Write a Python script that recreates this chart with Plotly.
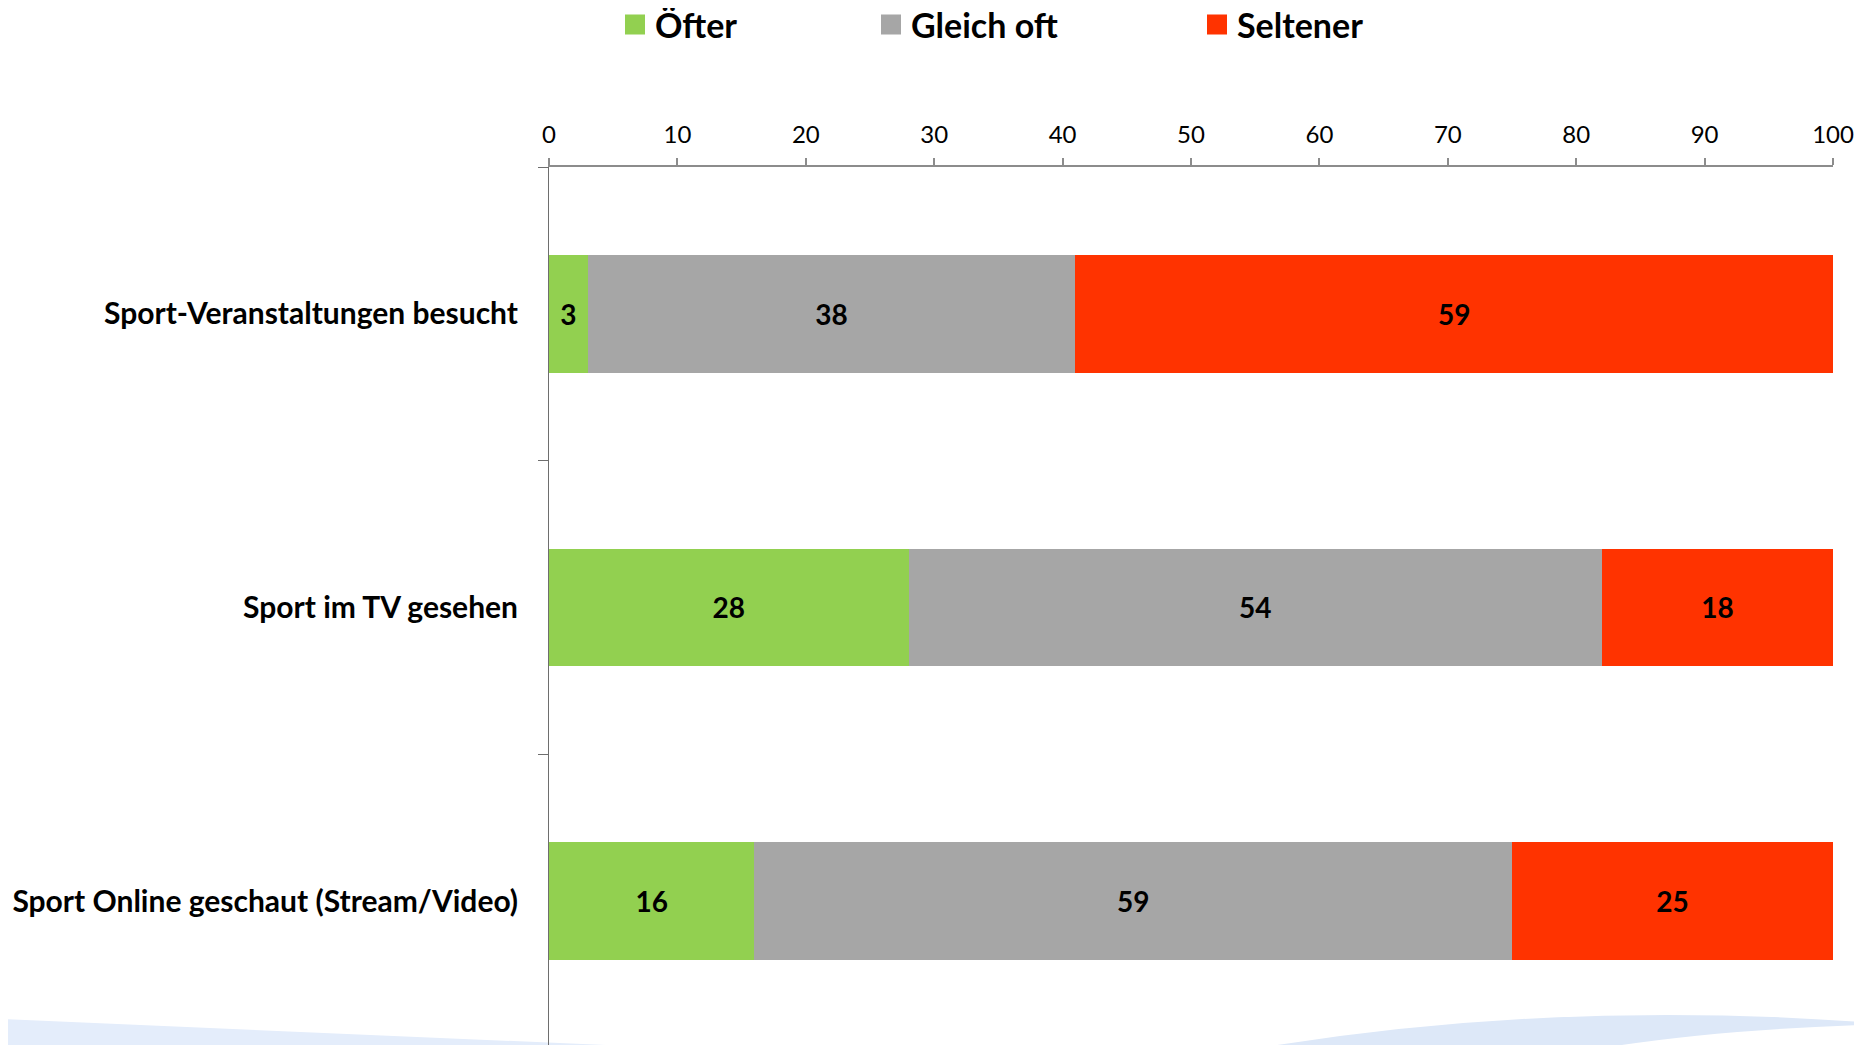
import plotly.graph_objects as go

categories = ["Sport-Veranstaltungen besucht", "Sport im TV gesehen", "Sport Online geschaut (Stream/Video)"]
series_names = ["Öfter", "Gleich oft", "Seltener"]
oefter = [3, 28, 16]
gleich_oft = [38, 54, 59]
seltener = [59, 18, 25]
colors = ["#92d050", "#a6a6a6", "#ff3300"]
x_ticks = [0, 10, 20, 30, 40, 50, 60, 70, 80, 90, 100]

# page body has an 8px margin, so the figure is offset by 8px
OFF = 8
W, H = 1862 - OFF, 1045 - OFF
ML, MT, MB = 549 - OFF, 167 - OFF, 0
PW = 1284
MR = W - ML - PW
PH = H - MT - MB

FONT = "Lato"
legend_names = ["legend", "legend2", "legend3"]

fig = go.Figure()
for name, vals, col in zip(series_names, [oefter, gleich_oft, seltener], colors):
    fig.add_trace(go.Bar(
        y=categories, x=vals, name=name, orientation="h",
        marker=dict(color=col, line=dict(width=0)),
        text=[str(v) for v in vals], textposition="inside",
        insidetextanchor="middle", constraintext="none",
        textfont=dict(family=FONT, size=28, color="black", weight="bold"),
        width=0.4, hoverinfo="x+y+name", showlegend=False,
    ))

# legend entries (square swatches, one legend per series)
for name, col, lg in zip(series_names, colors, legend_names):
    fig.add_trace(go.Scatter(
        x=[None], y=[None], mode="markers", name=name, legend=lg,
        marker=dict(symbol="square", size=16, color=col, line=dict(color=col, width=4)),
        showlegend=True, hoverinfo="skip",
    ))

def px2paper_x(px):
    return (px - OFF - ML) / PW

def px2paper_y(py):
    return (H - MB - (py - OFF)) / PH

legend_common = dict(
    orientation="h", yanchor="middle", xanchor="left",
    font=dict(family=FONT, size=34, color="black", weight="bold"),
    bgcolor="rgba(0,0,0,0)", itemwidth=30, visible=True,
)

def pp(x, y):
    return f"{px2paper_x(x):.5f},{px2paper_y(y):.5f}"

left_swoosh = "M" + pp(0, 1019) + " L" + pp(629, 1046) + " L" + pp(0, 1046) + " Z"
right_swoosh = ("M" + pp(1271, 1046) + " Q" + pp(1560, 1000) + " " + pp(1860, 1022)
                + " L" + pp(1860, 1025) + " Q" + pp(1720, 1030) + " " + pp(1615, 1046) + " Z")

fig.update_layout(
    width=W, height=H,
    margin=dict(l=ML, r=MR, t=MT, b=MB, autoexpand=False),
    barmode="stack", showlegend=True,
    plot_bgcolor="white", paper_bgcolor="white",
    font=dict(family=FONT, color="black"),
    legend=dict(x=px2paper_x(615), y=px2paper_y(25), **legend_common),
    legend2=dict(x=px2paper_x(871), y=px2paper_y(25), **legend_common),
    legend3=dict(x=px2paper_x(1197), y=px2paper_y(25), **legend_common),
    shapes=[
        dict(type="path", path=left_swoosh, xref="paper", yref="paper",
             fillcolor="#e4edfb", line=dict(width=0), layer="below"),
        dict(type="path", path=right_swoosh, xref="paper", yref="paper",
             fillcolor="#dde8f8", line=dict(width=0), layer="below"),
    ],
    xaxis=dict(
        side="top", range=[0, 100], tickvals=x_ticks, ticktext=[str(t) for t in x_ticks],
        showgrid=False, zeroline=False, showline=True, linecolor="#8c8c8c", linewidth=2,
        ticks="outside", ticklen=7, tickwidth=2, tickcolor="#8c8c8c",
        tickfont=dict(family=FONT, size=24, color="black"), ticklabelstandoff=5,
    ),
    yaxis=dict(
        categoryorder="array", categoryarray=categories,
        range=[2.49, -0.5], showgrid=False, zeroline=False,
        showline=True, linecolor="#6e6e6e", linewidth=1,
        ticks="outside", ticklen=10, tickwidth=1, tickcolor="#6e6e6e",
        tickson="boundaries",
        tickfont=dict(family=FONT, size=30, color="black", weight="bold"),
        ticklabelstandoff=24,
    ),
)

fig.write_html("out.html")
